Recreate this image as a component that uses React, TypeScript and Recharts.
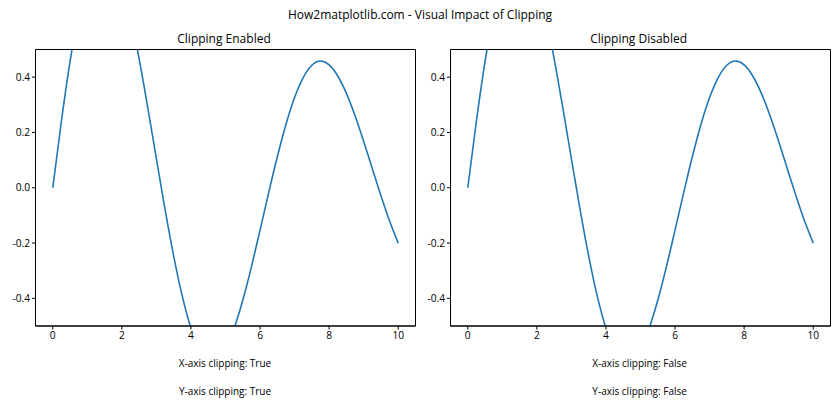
import React from "react";
import { LineChart, Line, XAxis, YAxis, ReferenceArea } from "recharts";

const xValues = [0, 0.25, 0.5, 0.75, 1, 1.25, 1.5, 1.75, 2, 2.25, 2.5, 2.75, 3, 3.25, 3.5, 3.75, 4, 4.25, 4.5, 4.75, 5, 5.25, 5.5, 5.75, 6, 6.25, 6.5, 6.75, 7, 7.25, 7.5, 7.75, 8, 8.25, 8.5, 8.75, 9, 9.25, 9.5, 9.75, 10];
const yValues = [0, 0.2413, 0.456, 0.6323, 0.7614, 0.8375, 0.8585, 0.8261, 0.7445, 0.6213, 0.4661, 0.2899, 0.1045, -0.0782, -0.2472, -0.3929, -0.5073, -0.5851, -0.6233, -0.6215, -0.5816, -0.5081, -0.407, -0.286, -0.1533, -0.0178, 0.1123, 0.2291, 0.3263, 0.3986, 0.4431, 0.4582, 0.4445, 0.4043, 0.3413, 0.2604, 0.1676, 0.0691, -0.0291, -0.1205, -0.2001];
const xTicks = [0, 2, 4, 6, 8, 10];
const yTicks = [-0.4, -0.2, 0, 0.2, 0.4];
const mainTitle = "How2matplotlib.com - Visual Impact of Clipping";
const panelTitles = ["Clipping Enabled", "Clipping Disabled"];
const clipFlags = ["True", "False"];

const data = xValues.map((x, i) => ({ x, y: yValues[i] }));

const FONT = "'Open Sans', 'Noto Sans', sans-serif";
const tickStyle = { fontSize: 10.2, fill: "#000", fontFamily: FONT };

function Panel({ left, title, flag }: { left: number; title: string; flag: string }) {
  return (
    <>
      <div style={{ position: "absolute", left: left + 224, top: 38, transform: "translate(-50%,-50%)", fontSize: 12, fontFamily: FONT, whiteSpace: "nowrap", color: "#000" }}>{title}</div>
      <div style={{ position: "absolute", left: 0 + left, top: 0 }}>
        <LineChart width={420} height={420} data={data} margin={{ top: 49.5, right: 4.5, bottom: 64, left: 0 }}>
          <XAxis
            dataKey="x"
            type="number"
            domain={[-0.5, 10.5]}
            ticks={xTicks}
            allowDataOverflow
            height={30}
            tick={tickStyle}
            tickSize={3.5}
            tickLine={{ stroke: "#000" }}
            axisLine={{ stroke: "#000" }}
            interval={0}
          />
          <YAxis
            type="number"
            domain={[-0.5, 0.5]}
            ticks={yTicks}
            allowDataOverflow
            width={35.5}
            tick={tickStyle}
            tickSize={3.5}
            tickLine={{ stroke: "#000" }}
            axisLine={{ stroke: "#000" }}
            tickFormatter={(v: number) => v.toFixed(1)}
            interval={0}
          />
          <ReferenceArea x1={-0.5} x2={10.5} y1={-0.5} y2={0.5} fill="none" stroke="#000" strokeWidth={1} fillOpacity={0} />
          <Line dataKey="y" type="monotone" stroke="#1f77b4" strokeWidth={1.6} dot={false} isAnimationActive={false} />
        </LineChart>
      </div>
      <div style={{ position: "absolute", left: left + 225, top: 363, transform: "translate(-50%,-50%)", fontSize: 10, fontFamily: FONT, whiteSpace: "nowrap", color: "#000" }}>{`X-axis clipping: ${flag}`}</div>
      <div style={{ position: "absolute", left: left + 225, top: 391, transform: "translate(-50%,-50%)", fontSize: 10, fontFamily: FONT, whiteSpace: "nowrap", color: "#000" }}>{`Y-axis clipping: ${flag}`}</div>
    </>
  );
}

export default function App() {
  return (
    <div style={{ position: "absolute", left: 0, top: 0, width: 840, height: 420, background: "#fff", overflow: "hidden" }}>
      <div style={{ position: "absolute", left: 420, top: 14, transform: "translate(-50%,-50%)", fontSize: 12, fontFamily: FONT, whiteSpace: "nowrap", color: "#000" }}>{mainTitle}</div>
      <Panel left={0} title={panelTitles[0]} flag={clipFlags[0]} />
      <Panel left={414.6} title={panelTitles[1]} flag={clipFlags[1]} />
    </div>
  );
}
